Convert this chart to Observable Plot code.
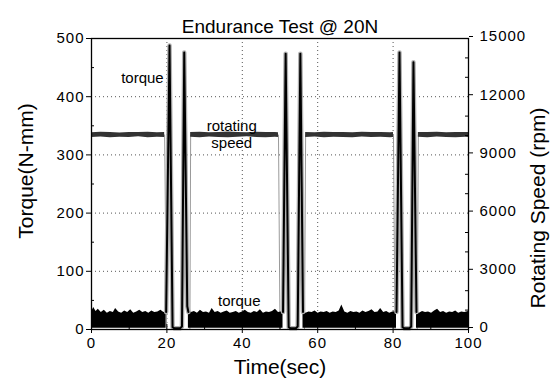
<!DOCTYPE html>
<html><head><meta charset="utf-8">
<script src="https://cdn.jsdelivr.net/npm/d3@7"></script>
<script src="https://cdn.jsdelivr.net/npm/@observablehq/plot@0.6"></script>
<style>
body{margin:0;background:#fff}
svg{font-family:"Liberation Sans",Arial,sans-serif}
g[aria-label="title"] text{letter-spacing:1.2px}
g[aria-label="y-axis tick label"] text, g[aria-label="x-axis tick label"] text{letter-spacing:1px}
g[aria-label="axis titles"] text{letter-spacing:0.8px}
g[aria-label="annotations"] text{letter-spacing:0.4px}
</style>
</head><body><div id="chart"></div>
<script>
// ---- text & ticks ----
const title = "Endurance Test @ 20N";
const xLabel = "Time(sec)";
const yLeftLabel = "Torque(N-mm)";
const yRightLabel = "Rotating Speed (rpm)";
const xTicks = [0, 20, 40, 60, 80, 100];
const xMinor = [10, 30, 50, 70, 90];
const yLeftTicks = [0, 100, 200, 300, 400, 500];
const yLeftMinor = [50, 150, 250, 350, 450];
const yRightTicks = [0, 3000, 6000, 9000, 12000, 15000];
const yRightMinor = [1000, 2000, 4000, 5000, 7000, 8000, 10000, 11000, 13000, 14000];
const rpmPerTorque = 30; // 15000 rpm at the top = 500 N-mm

// ---- torque baseline noise band (upper envelope, N-mm) ----
const torqueFloor = 2;
const torqueBandTime = [
  0,0.6,1.2,1.8,2.6,3.4,4.2,5.0,5.8,6.4,7.2,8.0,8.8,9.6,10.4,11.2,12.0,12.8,13.6,14.4,15.2,16.0,16.8,17.6,18.4,19.2,19.8,
  25.7,26.5,27.3,28.1,28.9,29.7,30.5,31.3,32.0,32.8,33.6,34.4,35.2,36.0,36.8,37.6,38.4,39.2,40.0,40.8,41.6,42.4,43.2,44.0,44.8,45.6,46.4,47.2,48.0,48.8,49.6,50.3,50.8,
  56.1,56.9,57.7,58.5,59.3,60.1,60.9,61.7,62.5,63.3,64.1,64.9,65.7,66.4,67.2,68.0,68.8,69.6,70.4,71.2,72.0,72.8,73.6,74.4,75.2,76.0,76.7,77.5,78.3,79.1,79.9,80.9,
  86.2,87.0,87.8,88.6,89.4,90.2,91.0,91.8,92.6,93.4,94.2,95.0,95.8,96.6,97.4,98.2,99.0,100
];
const torqueBandHigh = [
  30,38,31,35,29,33,28,31,29,36,30,28,32,29,34,28,30,33,29,31,28,32,29,30,33,29,31,
  32,29,31,28,33,29,30,28,36,29,31,28,30,32,28,29,31,28,30,33,29,28,31,29,34,28,30,29,31,35,29,30,31,
  31,28,30,29,32,28,30,29,31,28,30,29,32,42,30,28,31,29,30,28,32,29,31,34,29,30,36,29,31,28,30,31,
  30,28,31,29,30,28,32,35,29,31,28,30,29,32,28,30,29,31
];
const torqueBandSeg = [
  ...Array(27).fill("a"), ...Array(33).fill("b"), ...Array(32).fill("c"), ...Array(18).fill("d")
];

// ---- torque spikes (N-mm) ----
const spikeTime = [
  19.8,20.7,21.5,22.0,23.5,24.0,24.6,25.4,25.7,
  50.8,51.5,52.3,52.8,54.2,54.7,55.4,56.1,
  80.9,81.7,82.5,83.0,84.3,84.8,85.4,86.2
];
const spikeTorque = [
  30,488,4,2,2,5,476,40,30,
  30,474,4,2,2,5,474,30,
  30,476,4,2,2,5,459,30
];
const spikePair = [
  ...Array(9).fill(1), ...Array(8).fill(2), ...Array(8).fill(3)
];

// ---- rotating speed (rpm) ----
const speedTime = [0,19.4,19.9,26.1,26.3,49.6,50.0,56.5,56.8,80.1,80.5,86.4,86.7,100];
const speedRpm  = [10030,10030,0,0,10030,10030,0,0,10030,10030,0,0,10030,10030];
const speedBandTime = [
  0,2.5,5,7.5,10,12.5,15,17.5,19.4,
  26.3,28.8,31.3,33.8,36.3,38.8,41.3,43.8,46.3,48.8,49.6,
  56.8,59.3,61.8,64.3,66.8,69.3,71.8,74.3,76.8,79.3,80.1,
  86.7,89.2,91.7,94.2,96.7,99.2,100
];
const speedBandLow = [
  9900,9920,9890,9910,9900,9930,9890,9910,9900,
  9910,9890,9920,9900,9890,9910,9930,9900,9890,9910,9900,
  9900,9920,9890,9910,9900,9890,9920,9900,9910,9890,9900,
  9910,9890,9920,9900,9890,9910,9900
];
const speedBandHigh = [
  10140,10170,10150,10130,10160,10150,10170,10140,10150,
  10150,10170,10140,10160,10180,10150,10140,10170,10160,10150,10140,
  10150,10140,10170,10150,10160,10140,10170,10150,10160,10140,10150,
  10160,10150,10170,10140,10160,10150,10150
];
const speedBandSeg = [
  ...Array(9).fill("a"), ...Array(11).fill("b"), ...Array(11).fill("c"), ...Array(7).fill("d")
];

// ---- annotations (data units: sec, N-mm) ----
const noteText = ["torque", "rotating", "speed", "torque"];
const noteTime = [13.5, 37.2, 37.2, 39.2];
const noteTorque = [431, 350, 320, 49];

// ---- build tables ----
const torqueBand = torqueBandTime.map((t, i) => ({t, hi: torqueBandHigh[i], seg: torqueBandSeg[i]}));
const spikes = spikeTime.map((t, i) => ({t, v: spikeTorque[i], pair: spikePair[i]}));
const speedLine = speedTime.map((t, i) => ({t, rpm: speedRpm[i]}));
const speedBand = speedBandTime.map((t, i) => ({t, lo: speedBandLow[i], hi: speedBandHigh[i], seg: speedBandSeg[i]}));
const notes = noteText.map((s, i) => ({s, t: noteTime[i], v: noteTorque[i]}));
const toLeft = r => r / rpmPerTorque;

const W = 559, H = 384, mT = 38, mB = 55, mL = 91, mR = 91;
const pw = W - mL - mR, ph = H - mT - mB;
const ink = "#000";

const chart = Plot.plot({
  width: W, height: H,
  marginTop: mT, marginBottom: mB, marginLeft: mL, marginRight: mR,
  style: {background: "#fff", color: ink, fontFamily: '"Liberation Sans", Arial, sans-serif'},
  x: {domain: [0, 100], label: null},
  y: {domain: [0, 500], label: null},
  marks: [
    Plot.gridX(xTicks.slice(1, -1), {stroke: "#555", strokeOpacity: 1, strokeWidth: 1, strokeDasharray: "1,3"}),
    Plot.gridY(yLeftTicks.slice(1, -1), {stroke: "#555", strokeOpacity: 1, strokeWidth: 1, strokeDasharray: "1,3"}),
    Plot.line(speedLine, {x: "t", y: d => toLeft(d.rpm), stroke: "#9a9a9a", strokeWidth: 1}),
    Plot.areaY(speedBand, {x: "t", y1: d => toLeft(d.lo), y2: d => toLeft(d.hi), z: "seg", fill: "#333"}),
    Plot.areaY(torqueBand, {x: "t", y1: torqueFloor, y2: "hi", z: "seg", fill: ink}),
    Plot.line(spikes, {x: "t", y: "v", z: "pair", stroke: "#b0b0b0", strokeWidth: 4.5}),
    Plot.line(spikes, {x: "t", y: "v", z: "pair", stroke: ink, strokeWidth: 2}),
    Plot.frame({stroke: ink, strokeWidth: 1.3}),
    // minor / inner ticks
    Plot.ruleX(xMinor, {x: d => d, insetTop: ph - 3, stroke: ink}),
    Plot.ruleX(xTicks, {x: d => d, insetTop: ph - 5, stroke: ink}),
    Plot.ruleY(yLeftMinor, {y: d => d, insetRight: pw - 3, stroke: ink}),
    Plot.ruleY(yRightMinor, {y: d => toLeft(d), insetLeft: pw - 3, stroke: ink}),
    // axes
    Plot.axisX(xTicks, {anchor: "bottom", tickSize: 4, tickPadding: 4, fontSize: 15, label: null}),
    Plot.axisY(yLeftTicks, {anchor: "left", tickSize: 5, tickPadding: 2, fontSize: 15, label: null}),
    Plot.axisY(yRightTicks.map(toLeft), {anchor: "right", tickSize: 4, tickPadding: 7, dy: -2, fontSize: 15, label: null,
      tickFormat: v => String(Math.round(v * rpmPerTorque))}),
    // titles
    Plot.text([title], {text: d => d, frameAnchor: "top", dy: -19, fontSize: 19, ariaLabel: "title", fill: ink}),
    Plot.text([xLabel], {text: d => d, frameAnchor: "bottom", dy: 44, fontSize: 21, ariaLabel: "axis titles", fill: ink}),
    Plot.text([yLeftLabel], {text: d => d, frameAnchor: "left", textAnchor: "middle", dx: -65, dy: -13, rotate: -90, fontSize: 21, ariaLabel: "axis titles", fill: ink}),
    Plot.text([yRightLabel], {text: d => d, frameAnchor: "right", textAnchor: "middle", dx: 70, dy: 24, rotate: -90, fontSize: 21, ariaLabel: "axis titles", fill: ink}),
    // annotations
    Plot.text(notes, {x: "t", y: "v", text: "s", fontSize: 15, ariaLabel: "annotations", fill: ink})
  ]
});
document.getElementById("chart").appendChild(chart);
</script>
</body></html>
